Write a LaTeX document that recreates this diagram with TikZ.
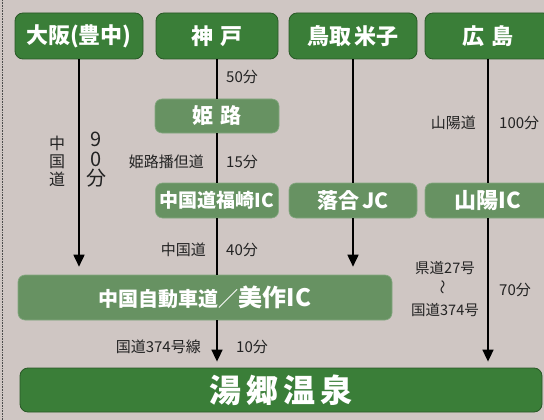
\documentclass[tikz,border=0pt]{standalone}
\usepackage{fontspec}
\setmainfont{Noto Sans CJK JP}
\usetikzlibrary{arrows.meta}

\definecolor{bg}{RGB}{207,198,195}
\definecolor{darkgrn}{RGB}{58,126,56}
\definecolor{lightgrn}{RGB}{103,146,98}
\definecolor{txt}{RGB}{35,35,35}

\newcommand{\fs}[1]{\fontsize{#1}{#1}\selectfont}

\begin{document}
\begin{tikzpicture}[
    x=1pt, y=-1pt,
    every node/.style={inner sep=0pt, text=txt},
    city/.style={draw=darkgrn!70!black, fill=darkgrn, rounded corners=8pt, line width=0.8pt,
        text=white, font=\bfseries\fs{22}, minimum height=46pt},
    stop/.style={draw=lightgrn!80!white, fill=lightgrn, rounded corners=7pt, line width=0.6pt,
        text=white, font=\bfseries\fs{19}, minimum height=35pt},
    note/.style={font=\fs{15}},
    road/.style={line width=1.7pt, black},
    roadarr/.style={road, -{Triangle[width=11pt,length=12pt]}}
]
\useasboundingbox (0,0) rectangle (544,420);
\fill[bg] (0,0) rectangle (544,420);
\draw[densely dotted, gray!60!black, line width=0.6pt] (2,0) -- (2,420);

% start points
\node[city, minimum width=128pt] (osaka) at (79,36) {大阪(豊中)};
\node[city, minimum width=122pt] (kobe) at (217,36) {神\hspace{8pt}戸};
\node[city, minimum width=128pt] (tottori) at (353,36) {鳥取\hspace{3pt}米子};
\node[city, minimum width=126pt] (hiroshima) at (488,36) {広\hspace{8pt}島};

% interchanges
\node[stop, minimum width=124pt, minimum height=34pt, font=\bfseries\fs{21}] (himeji) at (217,116) {姫\hspace{8pt}路};
\node[stop, minimum width=123pt] (fukusaki) at (217,200.5) {中国道福崎IC};
\node[stop, minimum width=128pt, font=\bfseries\fs{21}] (ochiai) at (353,200.5) {落合\,JC};
\node[stop, minimum width=126pt, font=\bfseries\fs{22}] (sanyo) at (488,200.5) {山陽IC};
\node[stop, minimum width=374pt, minimum height=45pt, font=\bfseries] (mimasaka) at (205,297.5)
    {{\fs{20}中国自動車道／}{\fs{24}美作IC}};

% goal
\node[city, minimum width=522pt, minimum height=44pt, font=\bfseries\fs{32}] (yunogo) at (281,390)
    {湯\hspace{5pt}郷\hspace{5pt}温\hspace{5pt}泉};

% roads and times
\node[note, anchor=west] (t50) at (226,77) {50分};
\node[note, anchor=east] (r15) at (204,162) {姫路播但道};
\node[note, anchor=west] (t15) at (226,162) {15分};
\node[note, anchor=east] (r40) at (206,250) {中国道};
\node[note, anchor=west] (t40) at (226,250) {40分};
\node[note, anchor=east] (r10) at (201,347) {国道374号線};
\node[note, anchor=west] (t10) at (236,347) {10分};
\node[note, align=center, font=\fontsize{16}{18}\selectfont] (r90) at (57,161) {中\\国\\道};
\node[note, align=center, font=\fontsize{20}{19.5}\selectfont] (t90) at (96,160) {9\\0\\分};
\node[note, anchor=east] (r100) at (476,123) {山陽道};
\node[note, anchor=west] (t100) at (499,123) {100分};
\node[note, align=center, font=\fontsize{14.5}{21}\selectfont] (r70) at (445,289)
    {県道27号\\\rotatebox{90}{～}\\国道374号};
\node[note, anchor=west] (t70) at (499,290) {70分};

\draw[roadarr, shorten >=8pt] (osaka) -- (osaka |- mimasaka.north);
\draw[road] (kobe) -- (himeji);
\draw[road] (himeji) -- (fukusaki);
\draw[road] (fukusaki) -- (fukusaki |- mimasaka.north);
\draw[roadarr, shorten >=6pt] (fukusaki |- mimasaka.south) -- (fukusaki |- yunogo.north);
\draw[road] (tottori) -- (ochiai);
\draw[roadarr, shorten >=8pt] (ochiai) -- (ochiai |- mimasaka.north);
\draw[road] (hiroshima) -- (sanyo);
\draw[roadarr, shorten >=6pt] (sanyo) -- (sanyo |- yunogo.north);
\end{tikzpicture}
\end{document}
